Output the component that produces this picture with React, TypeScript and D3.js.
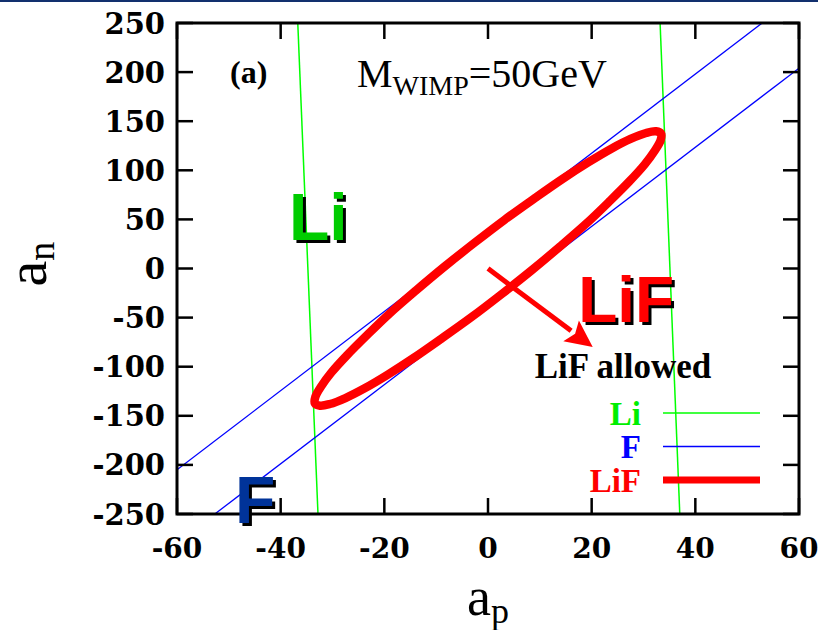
import React from "react";
import * as d3 from "d3";

// Canvas and plot frame
const W = 818;
const H = 630;
const FRAME = { left: 177, right: 799, top: 23, bottom: 514 };

// Axis ticks
const xTicks = [-60, -40, -20, 0, 20, 40, 60];
const yTicks = [250, 200, 150, 100, 50, 0, -50, -100, -150, -200, -250];

// Li exclusion limits (two nearly vertical boundary lines), [a_p, a_n]
const liLines: [number, number][][] = [
  [[-36.7, 250], [-32.8, -250]],
  [[33.2, 250], [37.0, -250]],
];

// F exclusion limits (two parallel boundary lines), [a_p, a_n]
const fLines: [number, number][][] = [
  [[-60, -205], [52.9, 250]],
  [[-52.7, -250], [60, 204]],
];

// LiF allowed contour, [a_p, a_n]
const lifContour: [number, number][] = [
  [32.4, 139.7], [30.5, 138.0], [27.5, 131.9], [23.8, 122.0], [19.4, 108.3],
  [14.4, 91.3], [9.0, 71.5], [3.2, 49.6], [-2.6, 26.2], [-8.4, 1.9],
  [-13.9, -22.4], [-19.0, -45.9], [-23.4, -68.2], [-27.2, -88.3], [-30.2, -105.8],
  [-32.2, -120.1], [-33.3, -130.6], [-33.4, -137.3], [-32.4, -139.7], [-30.5, -138.0],
  [-27.5, -131.9], [-23.8, -122.0], [-19.4, -108.3], [-14.4, -91.3], [-9.0, -71.5],
  [-3.2, -49.6], [2.6, -26.2], [8.4, -1.9], [13.9, 22.4], [19.0, 45.9],
  [23.4, 68.2], [27.2, 88.3], [30.2, 105.8], [32.2, 120.1], [33.3, 130.6],
  [33.4, 137.3],
];

// Arrow pointing into the allowed region, [a_p, a_n]
const arrowFrom: [number, number] = [0, 0];
const arrowTo: [number, number] = [20.2, -80];

// Annotation anchors, [a_p, a_n]
const liLabelAt: [number, number] = [-38.4, 29.5];
const lifLabelAt: [number, number] = [17.4, -54];
const fLabelAt: [number, number] = [-48.8, -259.5];
const allowedLabelAt: [number, number] = [9.0, -112];

// Legend entries
const legendNames = ["Li", "F", "LiF"];
const legendColors = ["#00ee00", "#0000ff", "#ff0000"];
const legendLineColors = ["#00ff00", "#0000ff", "#ff0000"];
const legendWidths = [1.5, 1.3, 7];

const SERIF = "'Liberation Serif', 'Times New Roman', serif";
const TICKFONT = "'DejaVu Serif', 'Liberation Serif', serif";
const SANS = "'Liberation Sans', Arial, sans-serif";

function ShadowText({ x, y, fill, size, children }: any) {
  return (
    <g fontFamily={SANS} fontWeight="bold" fontSize={size}>
      <text x={x + 3} y={y + 3} fill="#000">{children}</text>
      <text x={x} y={y} fill={fill}>{children}</text>
    </g>
  );
}

export default function App() {
  const x = d3.scaleLinear().domain([-60, 60]).range([FRAME.left, FRAME.right]);
  const y = d3.scaleLinear().domain([-250, 250]).range([FRAME.bottom, FRAME.top]);

  const seg = d3
    .line<[number, number]>()
    .x((d) => x(d[0]))
    .y((d) => y(d[1]));
  const contour = d3
    .line<[number, number]>()
    .x((d) => x(d[0]))
    .y((d) => y(d[1]))
    .curve(d3.curveCatmullRomClosed.alpha(0.5));

  // arrow geometry in pixels
  const ax0 = x(arrowFrom[0]);
  const ay0 = y(arrowFrom[1]);
  const ax1 = x(arrowTo[0]);
  const ay1 = y(arrowTo[1]);
  const len = Math.hypot(ax1 - ax0, ay1 - ay0);
  const ux = (ax1 - ax0) / len;
  const uy = (ay1 - ay0) / len;
  const headLen = 27;
  const headHalf = 13;
  const bx = ax1 - ux * headLen;
  const by = ay1 - uy * headLen;
  const head = [
    [ax1, ay1],
    [bx - uy * headHalf, by + ux * headHalf],
    [bx + ux * 5, by + uy * 5],
    [bx + uy * headHalf, by - ux * headHalf],
  ]
    .map((p) => p.join(","))
    .join(" ");

  const tickLen = 16;
  const legendTextX = 641;
  const legendLineX0 = 663;
  const legendLineX1 = 760;
  const legendY0 = 413;
  const legendStep = 33.5;

  return (
    <div style={{ position: "absolute", left: 0, top: 0 }}>
      <svg width={W} height={H} style={{ display: "block", background: "#fff" }}>
        <rect x={0} y={0} width={W} height={2} fill="#12306e" />
        <defs>
          <clipPath id="plotArea">
            <rect
              x={FRAME.left}
              y={FRAME.top}
              width={FRAME.right - FRAME.left}
              height={FRAME.bottom - FRAME.top}
            />
          </clipPath>
        </defs>

        <g clipPath="url(#plotArea)">
          {liLines.map((l, i) => (
            <path key={"li" + i} d={seg(l) || ""} stroke="#00ff00" strokeWidth={1.5} fill="none" />
          ))}
          {fLines.map((l, i) => (
            <path key={"f" + i} d={seg(l) || ""} stroke="#0000ff" strokeWidth={1.3} fill="none" />
          ))}
          <path d={contour(lifContour) || ""} stroke="#ff0000" strokeWidth={8.5} fill="none" />
          <line x1={ax0} y1={ay0} x2={bx} y2={by} stroke="#ff0000" strokeWidth={5} />
          <polygon points={head} fill="#ff0000" />
        </g>

        {/* frame */}
        <rect
          x={FRAME.left}
          y={FRAME.top}
          width={FRAME.right - FRAME.left}
          height={FRAME.bottom - FRAME.top}
          fill="none"
          stroke="#000"
          strokeWidth={3}
        />

        {/* ticks on all four sides */}
        <g stroke="#000" strokeWidth={2.5}>
          {xTicks.map((t) => (
            <g key={"xt" + t}>
              <line x1={x(t)} x2={x(t)} y1={FRAME.bottom} y2={FRAME.bottom - tickLen} />
              <line x1={x(t)} x2={x(t)} y1={FRAME.top} y2={FRAME.top + tickLen} />
            </g>
          ))}
          {yTicks.map((t) => (
            <g key={"yt" + t}>
              <line x1={FRAME.left} x2={FRAME.left + tickLen} y1={y(t)} y2={y(t)} />
              <line x1={FRAME.right} x2={FRAME.right - tickLen} y1={y(t)} y2={y(t)} />
            </g>
          ))}
        </g>

        {/* tick labels */}
        <g fontFamily={TICKFONT} fontWeight="bold" fill="#000">
          {xTicks.map((t) => (
            <text key={"xl" + t} x={x(t)} y={558} textAnchor="middle" fontSize={28}>
              {t}
            </text>
          ))}
          {yTicks.map((t) => (
            <text key={"yl" + t} x={165} y={y(t) + 10.5} textAnchor="end" fontSize={29}>
              {t}
            </text>
          ))}
        </g>

        {/* axis titles */}
        <text x={488} y={615} textAnchor="middle" fontFamily={SERIF} fontSize={54} fill="#000">
          a<tspan fontSize={36} dy={8}>p</tspan>
        </text>
        <text
          transform="translate(46,264) rotate(-90)"
          textAnchor="middle"
          fontFamily={SERIF}
          fontSize={58}
          fill="#000"
        >
          a<tspan fontSize={38} dy={8}>n</tspan>
        </text>

        {/* panel tag and mass */}
        <text x={230} y={83} fontFamily={SERIF} fontWeight="bold" fontSize={32} fill="#000">
          (a)
        </text>
        <text x={357} y={87} fontFamily={SERIF} fontSize={40} fill="#000">
          M<tspan fontSize={28} dy={8}>WIMP</tspan>
          <tspan dy={-8}>=50GeV</tspan>
        </text>

        {/* element labels */}
        <ShadowText x={x(liLabelAt[0])} y={y(liLabelAt[1])} fill="#00cc00" size={66}>
          Li
        </ShadowText>
        <ShadowText x={x(lifLabelAt[0])} y={y(lifLabelAt[1])} fill="#ff0000" size={64}>
          LiF
        </ShadowText>
        <ShadowText x={x(fLabelAt[0])} y={y(fLabelAt[1])} fill="#003399" size={66}>
          F
        </ShadowText>
        <text
          x={x(allowedLabelAt[0])}
          y={y(allowedLabelAt[1])}
          fontFamily={SERIF}
          fontWeight="bold"
          fontSize={35}
          fill="#000"
        >
          LiF allowed
        </text>

        {/* legend */}
        {legendNames.map((n, i) => {
          const ly = legendY0 + i * legendStep;
          return (
            <g key={"lg" + n}>
              <text
                x={legendTextX}
                y={ly + 11.5}
                textAnchor="end"
                fontFamily={SERIF}
                fontWeight="bold"
                fontSize={33}
                fill={legendColors[i]}
              >
                {n}
              </text>
              <line
                x1={legendLineX0}
                x2={legendLineX1}
                y1={ly}
                y2={ly}
                stroke={legendLineColors[i]}
                strokeWidth={legendWidths[i]}
              />
            </g>
          );
        })}
      </svg>
    </div>
  );
}
